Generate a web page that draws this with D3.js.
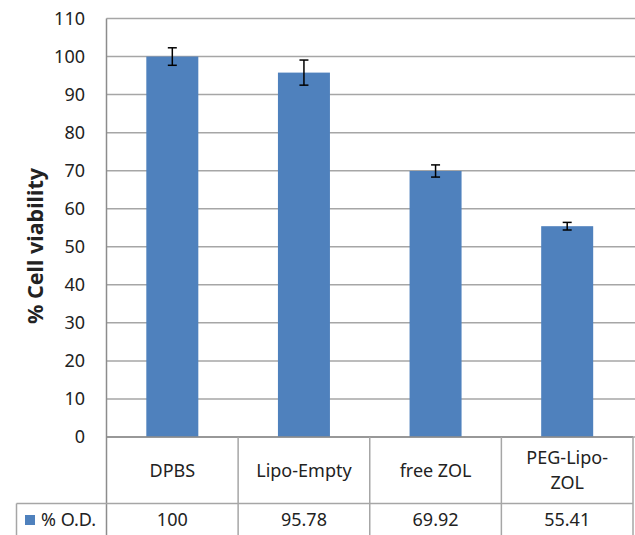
<!DOCTYPE html>
<html><head><meta charset="utf-8">
<script src="https://cdn.jsdelivr.net/npm/d3@7"></script>
<style>body{margin:0;background:#fff}svg{display:block}text{font-family:"Noto Sans","Open Sans",sans-serif;fill:#222}</style>
</head><body>
<script>
const categories = ["DPBS", "Lipo-Empty", "free ZOL", "PEG-Lipo-ZOL"];
const headerLines = [["DPBS"], ["Lipo-Empty"], ["free ZOL"], ["PEG-Lipo-", "ZOL"]];
const values = [100, 95.78, 69.92, 55.41];
const valueLabels = ["100", "95.78", "69.92", "55.41"];
const errors = [2.3, 3.3, 1.6, 1.0];
const yTicks = [0, 10, 20, 30, 40, 50, 60, 70, 80, 90, 100, 110];
const seriesName = "% O.D.";
const yLabel = "% Cell viability";

(function () {
const W = 635, H = 535;
const pL = 106.5, pR = 633, pT = 18.5, pB = 437;
const fs = 18;
const svg = d3.select("body").append("svg").attr("width", W).attr("height", H);

const x = d3.scaleBand().domain(categories).range([pL, pR]).paddingInner(0).paddingOuter(0);
const y = d3.scaleLinear().domain([0, 110]).range([pB, pT]);
const barW = 52;
const gridCol = "#a6a6a6";

svg.append("g").selectAll("line").data(yTicks).join("line")
  .attr("x1", pL).attr("x2", W).attr("y1", d => y(d)).attr("y2", d => y(d))
  .attr("stroke", gridCol).attr("stroke-width", 1.5);

svg.append("g").selectAll("text").data(yTicks).join("text")
  .attr("x", 85).attr("y", d => y(d)).attr("dy", "0.36em")
  .attr("text-anchor", "end").attr("font-size", fs).text(d => d);

svg.append("g").selectAll("rect").data(values).join("rect")
  .attr("x", (d, i) => x(categories[i]) + x.bandwidth() / 2 - barW / 2)
  .attr("width", barW)
  .attr("y", d => y(d)).attr("height", d => y(0) - y(d))
  .attr("fill", "#4f81bd");

const eb = svg.append("g").attr("stroke", "#000").attr("stroke-width", 1.5);
values.forEach((v, i) => {
  const cx = x(categories[i]) + x.bandwidth() / 2;
  const y1 = y(v + errors[i]), y2 = y(v - errors[i]);
  eb.append("line").attr("x1", cx).attr("x2", cx).attr("y1", y1).attr("y2", y2);
  eb.append("line").attr("x1", cx - 4.5).attr("x2", cx + 4.5).attr("y1", y1).attr("y2", y1);
  eb.append("line").attr("x1", cx - 4.5).attr("x2", cx + 4.5).attr("y1", y2).attr("y2", y2);
});

const tbl = svg.append("g").attr("stroke", gridCol).attr("stroke-width", 1.5).attr("fill", "none");
const rowSplit = 503.5, tableBottom = 540;
tbl.append("line").attr("x1", pL).attr("x2", pL).attr("y1", pT).attr("y2", tableBottom).attr("stroke", "#8c8c8c");
tbl.append("line").attr("x1", pL).attr("x2", pR).attr("y1", pB).attr("y2", pB).attr("stroke", "#8c8c8c");
categories.forEach(c => {
  tbl.append("line").attr("x1", x(c) + x.bandwidth()).attr("x2", x(c) + x.bandwidth())
    .attr("y1", pB).attr("y2", tableBottom);
});
tbl.append("line").attr("x1", 16.5).attr("x2", pR).attr("y1", rowSplit).attr("y2", rowSplit);
tbl.append("line").attr("x1", 16.5).attr("x2", 16.5).attr("y1", rowSplit).attr("y2", tableBottom);

headerLines.forEach((lines, i) => {
  const cx = x(categories[i]) + x.bandwidth() / 2;
  const mid = (pB + rowSplit) / 2;
  lines.forEach((l, j) => {
    svg.append("text").attr("x", cx).attr("y", mid + (j - (lines.length - 1) / 2) * 25)
      .attr("dy", "0.36em").attr("text-anchor", "middle").attr("font-size", fs).text(l);
  });
});
const vy = 520;
valueLabels.forEach((v, i) => {
  svg.append("text").attr("x", x(categories[i]) + x.bandwidth() / 2).attr("y", vy)
    .attr("dy", "0.36em").attr("text-anchor", "middle").attr("font-size", fs).text(v);
});
svg.append("rect").attr("x", 25).attr("y", 515).attr("width", 10).attr("height", 10).attr("fill", "#4f81bd");
svg.append("text").attr("x", 41).attr("y", vy).attr("dy", "0.36em").attr("font-size", fs).text(seriesName);

svg.append("text").attr("transform", `translate(43,246) rotate(-90)`)
  .attr("text-anchor", "middle").attr("font-size", 21.5).attr("font-weight", "bold").text(yLabel);
})();
</script>
</body></html>
